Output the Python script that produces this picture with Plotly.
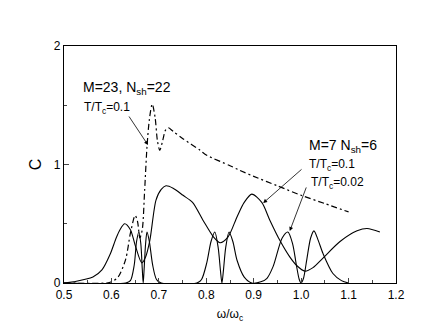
import plotly.graph_objects as go

# M=23, N_sh=22, T/Tc=0.1 (dash-dot)
w_m23 = [0.5, 0.59, 0.60, 0.614, 0.63, 0.64, 0.65, 0.655, 0.66, 0.665, 0.670, 0.675, 0.680,
         0.686, 0.692, 0.697, 0.702, 0.708, 0.714, 0.720, 0.73, 0.75, 0.787, 0.80, 0.85,
         0.871, 0.90, 0.95, 1.00, 1.05, 1.10]
c_m23 = [0.0, 0.0, 0.01, 0.05, 0.2, 0.42, 0.57, 0.52, 0.38, 0.45, 0.78, 1.15, 1.38,
         1.51, 1.40, 1.20, 1.12, 1.20, 1.29, 1.31, 1.28, 1.22, 1.12, 1.08, 0.99,
         0.95, 0.90, 0.82, 0.74, 0.67, 0.60]

# M=7, N_sh=6, T/Tc=0.1 (solid, broad)
w_m7a = [0.5, 0.52, 0.561, 0.58, 0.597, 0.61, 0.618, 0.628, 0.64, 0.65, 0.664, 0.672,
         0.681, 0.694, 0.705, 0.715, 0.73, 0.751, 0.771, 0.793, 0.815, 0.829, 0.846,
         0.865, 0.88, 0.896, 0.917, 0.934, 0.955, 0.976, 0.99, 1.008, 1.025, 1.046,
         1.082, 1.118, 1.139, 1.166]
c_m7a = [0.0, 0.01, 0.05, 0.11, 0.24, 0.38, 0.45, 0.50, 0.45, 0.32, 0.17, 0.22,
         0.36, 0.70, 0.79, 0.82, 0.80, 0.74, 0.68, 0.53, 0.39, 0.34, 0.39,
         0.56, 0.68, 0.75, 0.68, 0.53, 0.36, 0.22, 0.15, 0.10, 0.13, 0.21,
         0.35, 0.44, 0.46, 0.43]

# M=7, N_sh=6, T/Tc=0.02 (solid, sharp)
w_m7b = [0.5, 0.63, 0.64, 0.648, 0.653, 0.658, 0.662, 0.665, 0.667, 0.669, 0.672, 0.675,
         0.680, 0.687, 0.695, 0.705, 0.78, 0.79, 0.801, 0.81, 0.818, 0.825, 0.83, 0.833,
         0.836, 0.841, 0.848, 0.856, 0.865, 0.88, 0.896, 0.915, 0.928, 0.941, 0.96,
         0.972, 0.982, 0.99, 0.996, 1.0, 1.005, 1.012, 1.02, 1.027, 1.036, 1.046, 1.067,
         1.085, 1.10]
c_m7b = [0.0, 0.0, 0.02, 0.15, 0.35, 0.43, 0.33, 0.12, 0.0, 0.12, 0.33, 0.43,
         0.35, 0.15, 0.03, 0.0, 0.0, 0.03, 0.17, 0.35, 0.43, 0.30, 0.10, 0.0,
         0.10, 0.30, 0.43, 0.35, 0.19, 0.05, 0.0, 0.01, 0.04, 0.14, 0.38,
         0.43, 0.33, 0.15, 0.03, 0.0, 0.04, 0.20, 0.38, 0.44, 0.36, 0.25, 0.08,
         0.02, 0.0]

fnt = 'Liberation Sans, Arial, sans-serif'

fig = go.Figure()
fig.add_trace(go.Scatter(x=w_m23, y=c_m23, mode='lines',
    line=dict(color='black', width=1.2, dash='6px,3px,2px,3px', shape='spline', smoothing=0.8)))
fig.add_trace(go.Scatter(x=w_m7a, y=c_m7a, mode='lines',
    line=dict(color='black', width=1.1, shape='spline', smoothing=0.8)))
fig.add_trace(go.Scatter(x=w_m7b, y=c_m7b, mode='lines',
    line=dict(color='black', width=1.1, shape='spline', smoothing=0.8)))

# page body has an 8px margin, so the figure is a bit smaller than the window
fig.update_layout(
    width=428, height=325,
    margin=dict(l=56, r=40, t=38, b=50),
    plot_bgcolor='white', paper_bgcolor='white',
    showlegend=False,
    font=dict(family=fnt, size=12, color='black'),
    xaxis=dict(range=[0.5, 1.2], tickvals=[0.5, 0.6, 0.7, 0.8, 0.9, 1.0, 1.1, 1.2],
               tickformat='.1f', ticks='inside', ticklen=5, tickwidth=1,
               minor=dict(dtick=0.05, ticks='inside', ticklen=3, tickwidth=1),
               showline=True, linecolor='black', linewidth=1.2, mirror=True,
               showgrid=False, zeroline=False,
               title=dict(text='ω/ω<sub>c</sub>', font=dict(size=12), standoff=9)),
    yaxis=dict(range=[0, 2], tickvals=[0, 1, 2], ticks='inside', ticklen=5, tickwidth=1,
               minor=dict(dtick=0.5, ticks='inside', ticklen=3, tickwidth=1),
               showline=True, linecolor='black', linewidth=1.2, mirror=True,
               showgrid=False, zeroline=False,
               title=dict(text='C', font=dict(size=16), standoff=8)),
)

anns = [
    dict(x=0.536, y=1.645, text='M=23, N<sub>sh</sub>=22', font=dict(size=14)),
    dict(x=0.538, y=1.48, text='T/T<sub>c</sub>=0.1', font=dict(size=12)),
    dict(x=1.012, y=1.156, text='M=7 N<sub>sh</sub>=6', font=dict(size=14)),
    dict(x=1.012, y=0.996, text='T/T<sub>c</sub>=0.1', font=dict(size=12)),
    dict(x=1.017, y=0.844, text='T/T<sub>c</sub>=0.02', font=dict(size=12)),
]
for a in anns:
    fig.add_annotation(xref='x', yref='y', xanchor='left', yanchor='middle',
                       showarrow=False, **a)

arrows = [
    (0.677, 1.165, 0.635, 1.418),
    (0.920, 0.675, 1.004, 0.970),
    (0.976, 0.439, 1.012, 0.819),
]
for hx, hy, tx, ty in arrows:
    fig.add_annotation(x=hx, y=hy, ax=tx, ay=ty, xref='x', yref='y', axref='x', ayref='y',
                       text='', showarrow=True, arrowhead=2, arrowsize=1, arrowwidth=0.8,
                       arrowcolor='black')

fig.write_html("out.html")
